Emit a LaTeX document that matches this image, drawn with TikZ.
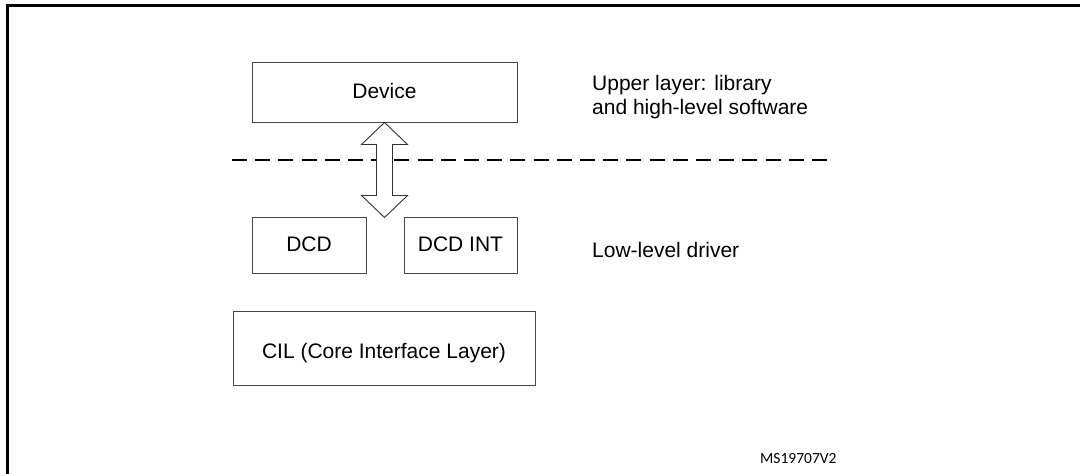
\documentclass[tikz,border=0pt]{standalone}
\usepackage{fontspec}
\setmainfont{Liberation Sans}
\newfontfamily\refnofont{Carlito}
\begin{document}
\begin{tikzpicture}[x=1pt,y=-1pt,
  every node/.style={font=\fontsize{21}{24}\selectfont},
  layerbox/.style={draw=black!72,line width=1pt,fill=white,inner sep=0pt,
    text height=13.4pt,text depth=0pt},
  note/.style={anchor=base west,inner sep=0pt},
  frameline/.style={line width=3pt,line join=miter},
  sepline/.style={line width=2.2pt,dash pattern=on 15pt off 8.2pt},
  bigarrow/.style={draw=black!80,line width=0.9pt,fill=white,line join=miter}]
\useasboundingbox (0,0) rectangle (1080,474);

% frame
\draw[frameline] (7.5,474) -- (7.5,5.5) -- (1080,5.5);

% boxes
\node[layerbox,minimum width=265pt,minimum height=60pt] (dev) at (384.5,92) {Device};
\node[layerbox,minimum width=114pt,minimum height=56pt] (dcd) at (309,245) {DCD};
\node[layerbox,minimum width=113pt,minimum height=56pt] (dcdint) at (460.5,245) {DCD INT};
\node[layerbox,minimum width=302pt,minimum height=74pt,text height=20.6pt] (cil) at (384,348) {CIL (Core Interface Layer)};

% separation between the upper layer and the driver
\coordinate (sepL) at (232,160);
\coordinate (sepR) at (827,160);
\draw[sepline] (sepL) -- (sepR);

% double arrow between the device and the driver
\coordinate (atop) at (dev.south);
\draw[bigarrow] (atop) -- ++(23,22) -- ++(-15,0) -- ++(0,51) -- ++(15,0)
  -- ++(-23,22) -- ++(-23,-22) -- ++(15,0) -- ++(0,-51) -- ++(-15,0) -- cycle;

% layer descriptions (base anchor sits on the last line)
\node[note,align=left] (upper) at (592,114) {Upper layer: library\\and high-level software};
\node[note] (low) at (592,257) {Low-level driver};
\node[note,font=\refnofont\fontsize{15.5}{18}\selectfont] (ref) at (760,463) {MS19707V2};
\end{tikzpicture}
\end{document}
